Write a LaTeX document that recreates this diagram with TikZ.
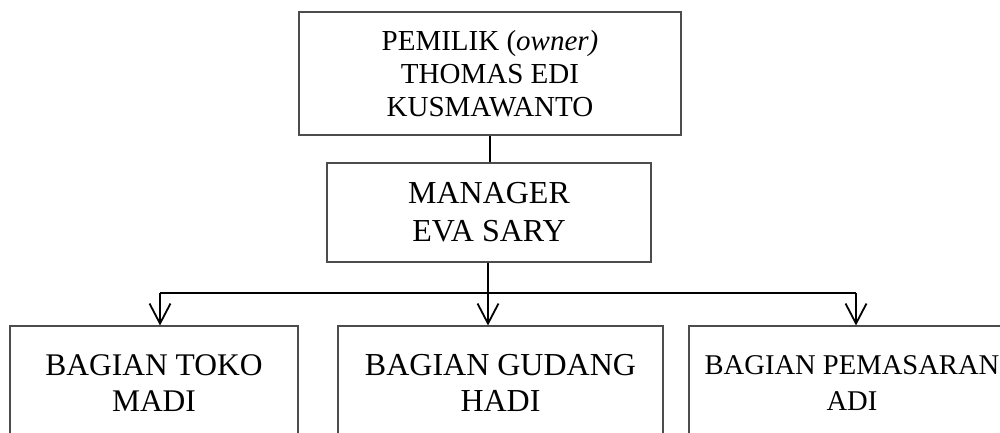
\documentclass[tikz,border=0pt]{standalone}
\usepackage{fontspec}
\setmainfont{Liberation Serif}
\usetikzlibrary{arrows.meta}
\begin{document}
\begin{tikzpicture}[x=1pt,y=-1pt,
  box/.style={draw=black!70, line width=1.1pt, inner sep=0pt, align=center},
  conn/.style={draw=black, line width=1.8pt},
  arr/.style={conn, -{Straight Barb[length=20pt,width=21pt,line width=1.8pt]}}]
\useasboundingbox (0,0) rectangle (1000,432);
\clip (0,0) rectangle (1000,432);
\node[box, minimum width=382pt, minimum height=123pt, font=\fontsize{29}{33}\selectfont] (own) at (490,73.5) {PEMILIK (\textit{owner)}\\THOMAS EDI\\KUSMAWANTO};
\node[box, minimum width=324pt, minimum height=99pt, font=\fontsize{32}{38}\selectfont] (mgr) at (489,212.5) {MANAGER\\EVA SARY};
\node[box, minimum width=288pt, minimum height=114pt, font=\fontsize{31.5}{36}\selectfont] (toko) at (154,383) {BAGIAN TOKO\\MADI};
\node[box, minimum width=325pt, minimum height=114pt, font=\fontsize{32}{36}\selectfont] (gudang) at (500.5,383) {BAGIAN GUDANG\\HADI};
\node[box, minimum width=326pt, minimum height=114pt, font=\fontsize{28.6}{36}\selectfont] (pemasaran) at (852,383) {BAGIAN PEMASARAN\\ADI};
\coordinate (jl) at (160,293);
\coordinate (jm) at (488,293);
\coordinate (jr) at (856,293);
\draw[conn] (own.south) -- (own.south |- mgr.north);
\draw[conn] (mgr.south -| jm) -- (jm);
\draw[conn] (jl) -- (jr);
\draw[arr] (jl) -- (jl |- toko.north);
\draw[arr] (jm) -- (jm |- gudang.north);
\draw[arr] (jr) -- (jr |- pemasaran.north);
\end{tikzpicture}
\end{document}
